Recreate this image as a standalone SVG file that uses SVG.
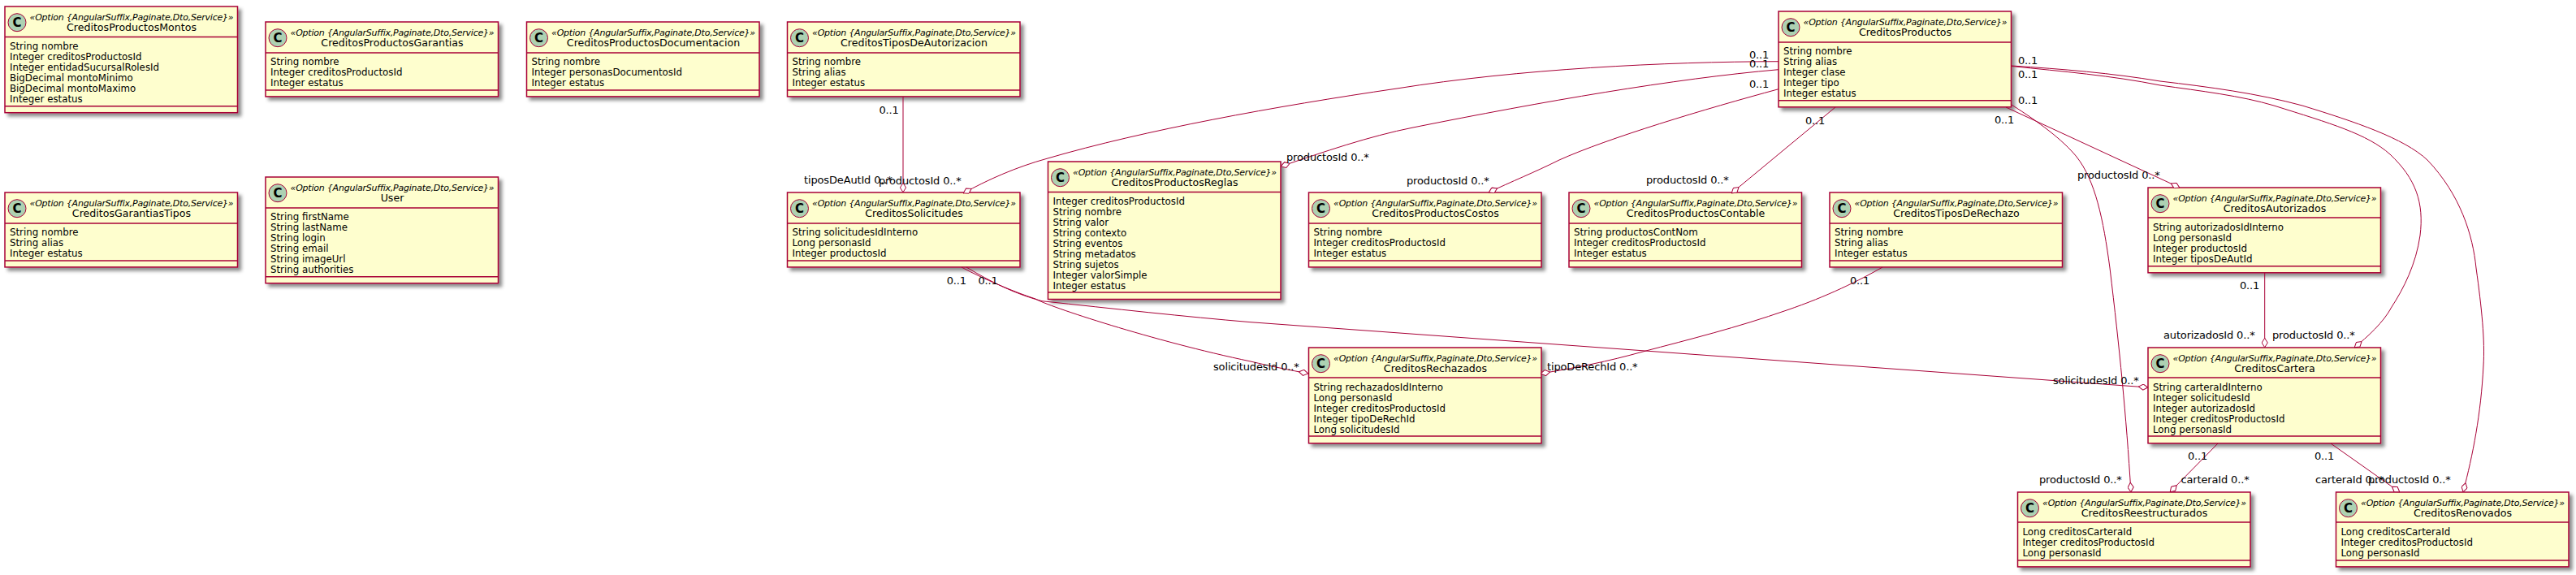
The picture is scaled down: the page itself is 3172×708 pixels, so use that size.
<svg xmlns="http://www.w3.org/2000/svg" width="3172" height="708" viewBox="0 0 3172 708">
<style>
text{font-family:"DejaVu Sans",sans-serif;fill:#000}
.box{fill:#FEFECE;stroke:#A80036;stroke-width:1.5;filter:url(#sh)}
.sep{stroke:#A80036;stroke-width:1.5}
.ic{fill:#ADD1B2;stroke:#A80036;stroke-width:1}
.c{font-size:15px;font-weight:bold;text-anchor:middle}
.st{font-size:11px;font-style:italic;text-anchor:middle;letter-spacing:-.22px}
.nm{font-size:12.6px;text-anchor:middle}
.at{font-size:11.8px}
.lb{font-size:13px;letter-spacing:-.15px}
#edges path{fill:none;stroke:#A80036;stroke-width:1;marker-end:url(#dia)}
</style>
<defs>
<filter id="sh" x="-5%" y="-10%" width="112%" height="125%"><feDropShadow dx="4" dy="4" stdDeviation="2" flood-color="#000" flood-opacity=".45"/></filter>
<marker id="dia" markerUnits="userSpaceOnUse" viewBox="0 0 12 8" refX="12" refY="4" markerWidth="12" markerHeight="8" orient="auto"><path d="M0.3 4L6 0.4L11.7 4L6 7.6Z" fill="#fff" stroke="#A80036" stroke-width="1"/></marker>
</defs>
<g id="CreditosProductosMontos" transform="translate(6,8)"><rect class="box" width="286.5" height="130.7"/><line class="sep" x2="286.5" y1="37.5" y2="37.5"/><line class="sep" x2="286.5" y1="122.7" y2="122.7"/><circle class="ic" cx="15" cy="19.7" r="11"/><text class="c" x="15" y="25">C</text><text class="st" x="156" y="17">«Option {AngularSuffix,Paginate,Dto,Service}»</text><text class="nm" x="156" y="30.3">CreditosProductosMontos</text><text class="at" x="6" y="52.5">String nombre</text><text class="at" x="6" y="65.5">Integer creditosProductosId</text><text class="at" x="6" y="78.5">Integer entidadSucursalRolesId</text><text class="at" x="6" y="91.5">BigDecimal montoMinimo</text><text class="at" x="6" y="104.5">BigDecimal montoMaximo</text><text class="at" x="6" y="117.5">Integer estatus</text></g>
<g id="CreditosProductosGarantias" transform="translate(327,27)"><rect class="box" width="286.5" height="91.9"/><line class="sep" x2="286.5" y1="38" y2="38"/><line class="sep" x2="286.5" y1="83.9" y2="83.9"/><circle class="ic" cx="15" cy="19.7" r="11"/><text class="c" x="15" y="25">C</text><text class="st" x="156" y="17">«Option {AngularSuffix,Paginate,Dto,Service}»</text><text class="nm" x="156" y="30.3">CreditosProductosGarantias</text><text class="at" x="6" y="52.5">String nombre</text><text class="at" x="6" y="65.5">Integer creditosProductosId</text><text class="at" x="6" y="78.5">Integer estatus</text></g>
<g id="CreditosProductosDocumentacion" transform="translate(648.5,27)"><rect class="box" width="286.5" height="91.9"/><line class="sep" x2="286.5" y1="38" y2="38"/><line class="sep" x2="286.5" y1="83.9" y2="83.9"/><circle class="ic" cx="15" cy="19.7" r="11"/><text class="c" x="15" y="25">C</text><text class="st" x="156" y="17">«Option {AngularSuffix,Paginate,Dto,Service}»</text><text class="nm" x="156" y="30.3">CreditosProductosDocumentacion</text><text class="at" x="6" y="52.5">String nombre</text><text class="at" x="6" y="65.5">Integer personasDocumentosId</text><text class="at" x="6" y="78.5">Integer estatus</text></g>
<g id="CreditosTiposDeAutorizacion" transform="translate(969.5,27)"><rect class="box" width="286.5" height="91.9"/><line class="sep" x2="286.5" y1="38" y2="38"/><line class="sep" x2="286.5" y1="83.9" y2="83.9"/><circle class="ic" cx="15" cy="19.7" r="11"/><text class="c" x="15" y="25">C</text><text class="st" x="156" y="17">«Option {AngularSuffix,Paginate,Dto,Service}»</text><text class="nm" x="156" y="30.3">CreditosTiposDeAutorizacion</text><text class="at" x="6" y="52.5">String nombre</text><text class="at" x="6" y="65.5">String alias</text><text class="at" x="6" y="78.5">Integer estatus</text></g>
<g id="CreditosProductos" transform="translate(2190,14)"><rect class="box" width="286.5" height="117.8"/><line class="sep" x2="286.5" y1="38" y2="38"/><line class="sep" x2="286.5" y1="109.8" y2="109.8"/><circle class="ic" cx="15" cy="19.7" r="11"/><text class="c" x="15" y="25">C</text><text class="st" x="156" y="17">«Option {AngularSuffix,Paginate,Dto,Service}»</text><text class="nm" x="156" y="30.3">CreditosProductos</text><text class="at" x="6" y="52.5">String nombre</text><text class="at" x="6" y="65.5">String alias</text><text class="at" x="6" y="78.5">Integer clase</text><text class="at" x="6" y="91.5">Integer tipo</text><text class="at" x="6" y="104.5">Integer estatus</text></g>
<g id="CreditosGarantiasTipos" transform="translate(6,237)"><rect class="box" width="286.5" height="91.9"/><line class="sep" x2="286.5" y1="38" y2="38"/><line class="sep" x2="286.5" y1="83.9" y2="83.9"/><circle class="ic" cx="15" cy="19.7" r="11"/><text class="c" x="15" y="25">C</text><text class="st" x="156" y="17">«Option {AngularSuffix,Paginate,Dto,Service}»</text><text class="nm" x="156" y="30.3">CreditosGarantiasTipos</text><text class="at" x="6" y="52.5">String nombre</text><text class="at" x="6" y="65.5">String alias</text><text class="at" x="6" y="78.5">Integer estatus</text></g>
<g id="User" transform="translate(327,218)"><rect class="box" width="286.5" height="130.7"/><line class="sep" x2="286.5" y1="38" y2="38"/><line class="sep" x2="286.5" y1="122.7" y2="122.7"/><circle class="ic" cx="15" cy="19.7" r="11"/><text class="c" x="15" y="25">C</text><text class="st" x="156" y="17">«Option {AngularSuffix,Paginate,Dto,Service}»</text><text class="nm" x="156" y="30.3">User</text><text class="at" x="6" y="52.5">String firstName</text><text class="at" x="6" y="65.5">String lastName</text><text class="at" x="6" y="78.5">String login</text><text class="at" x="6" y="91.5">String email</text><text class="at" x="6" y="104.5">String imageUrl</text><text class="at" x="6" y="117.5">String authorities</text></g>
<g id="CreditosSolicitudes" transform="translate(969.5,237)"><rect class="box" width="286.5" height="91.9"/><line class="sep" x2="286.5" y1="38" y2="38"/><line class="sep" x2="286.5" y1="83.9" y2="83.9"/><circle class="ic" cx="15" cy="19.7" r="11"/><text class="c" x="15" y="25">C</text><text class="st" x="156" y="17">«Option {AngularSuffix,Paginate,Dto,Service}»</text><text class="nm" x="156" y="30.3">CreditosSolicitudes</text><text class="at" x="6" y="52.5">String solicitudesIdInterno</text><text class="at" x="6" y="65.5">Long personasId</text><text class="at" x="6" y="78.5">Integer productosId</text></g>
<g id="CreditosProductosReglas" transform="translate(1290.5,199)"><rect class="box" width="286.5" height="169.5"/><line class="sep" x2="286.5" y1="37.5" y2="37.5"/><line class="sep" x2="286.5" y1="161" y2="161"/><circle class="ic" cx="15" cy="19.7" r="11"/><text class="c" x="15" y="25">C</text><text class="st" x="156" y="17">«Option {AngularSuffix,Paginate,Dto,Service}»</text><text class="nm" x="156" y="30.3">CreditosProductosReglas</text><text class="at" x="6" y="52.5">Integer creditosProductosId</text><text class="at" x="6" y="65.5">String nombre</text><text class="at" x="6" y="78.5">String valor</text><text class="at" x="6" y="91.5">String contexto</text><text class="at" x="6" y="104.5">String eventos</text><text class="at" x="6" y="117.5">String metadatos</text><text class="at" x="6" y="130.5">String sujetos</text><text class="at" x="6" y="143.5">Integer valorSimple</text><text class="at" x="6" y="156.5">Integer estatus</text></g>
<g id="CreditosProductosCostos" transform="translate(1611.5,237)"><rect class="box" width="286.5" height="91.9"/><line class="sep" x2="286.5" y1="38" y2="38"/><line class="sep" x2="286.5" y1="83.9" y2="83.9"/><circle class="ic" cx="15" cy="19.7" r="11"/><text class="c" x="15" y="25">C</text><text class="st" x="156" y="17">«Option {AngularSuffix,Paginate,Dto,Service}»</text><text class="nm" x="156" y="30.3">CreditosProductosCostos</text><text class="at" x="6" y="52.5">String nombre</text><text class="at" x="6" y="65.5">Integer creditosProductosId</text><text class="at" x="6" y="78.5">Integer estatus</text></g>
<g id="CreditosProductosContable" transform="translate(1932,237)"><rect class="box" width="286.5" height="91.9"/><line class="sep" x2="286.5" y1="38" y2="38"/><line class="sep" x2="286.5" y1="83.9" y2="83.9"/><circle class="ic" cx="15" cy="19.7" r="11"/><text class="c" x="15" y="25">C</text><text class="st" x="156" y="17">«Option {AngularSuffix,Paginate,Dto,Service}»</text><text class="nm" x="156" y="30.3">CreditosProductosContable</text><text class="at" x="6" y="52.5">String productosContNom</text><text class="at" x="6" y="65.5">Integer creditosProductosId</text><text class="at" x="6" y="78.5">Integer estatus</text></g>
<g id="CreditosTiposDeRechazo" transform="translate(2253,237)"><rect class="box" width="286.5" height="91.9"/><line class="sep" x2="286.5" y1="38" y2="38"/><line class="sep" x2="286.5" y1="83.9" y2="83.9"/><circle class="ic" cx="15" cy="19.7" r="11"/><text class="c" x="15" y="25">C</text><text class="st" x="156" y="17">«Option {AngularSuffix,Paginate,Dto,Service}»</text><text class="nm" x="156" y="30.3">CreditosTiposDeRechazo</text><text class="at" x="6" y="52.5">String nombre</text><text class="at" x="6" y="65.5">String alias</text><text class="at" x="6" y="78.5">Integer estatus</text></g>
<g id="CreditosAutorizados" transform="translate(2645,231)"><rect class="box" width="286.5" height="104.8"/><line class="sep" x2="286.5" y1="37" y2="37"/><line class="sep" x2="286.5" y1="96.8" y2="96.8"/><circle class="ic" cx="15" cy="19.7" r="11"/><text class="c" x="15" y="25">C</text><text class="st" x="156" y="17">«Option {AngularSuffix,Paginate,Dto,Service}»</text><text class="nm" x="156" y="30.3">CreditosAutorizados</text><text class="at" x="6" y="52.5">String autorizadosIdInterno</text><text class="at" x="6" y="65.5">Long personasId</text><text class="at" x="6" y="78.5">Integer productosId</text><text class="at" x="6" y="91.5">Integer tiposDeAutId</text></g>
<g id="CreditosRechazados" transform="translate(1611.5,428)"><rect class="box" width="286.5" height="117.8"/><line class="sep" x2="286.5" y1="37" y2="37"/><line class="sep" x2="286.5" y1="109" y2="109"/><circle class="ic" cx="15" cy="19.7" r="11"/><text class="c" x="15" y="25">C</text><text class="st" x="156" y="17">«Option {AngularSuffix,Paginate,Dto,Service}»</text><text class="nm" x="156" y="30.3">CreditosRechazados</text><text class="at" x="6" y="52.5">String rechazadosIdInterno</text><text class="at" x="6" y="65.5">Long personasId</text><text class="at" x="6" y="78.5">Integer creditosProductosId</text><text class="at" x="6" y="91.5">Integer tipoDeRechId</text><text class="at" x="6" y="104.5">Long solicitudesId</text></g>
<g id="CreditosCartera" transform="translate(2645,428)"><rect class="box" width="286.5" height="117.8"/><line class="sep" x2="286.5" y1="37" y2="37"/><line class="sep" x2="286.5" y1="109" y2="109"/><circle class="ic" cx="15" cy="19.7" r="11"/><text class="c" x="15" y="25">C</text><text class="st" x="156" y="17">«Option {AngularSuffix,Paginate,Dto,Service}»</text><text class="nm" x="156" y="30.3">CreditosCartera</text><text class="at" x="6" y="52.5">String carteraIdInterno</text><text class="at" x="6" y="65.5">Integer solicitudesId</text><text class="at" x="6" y="78.5">Integer autorizadosId</text><text class="at" x="6" y="91.5">Integer creditosProductosId</text><text class="at" x="6" y="104.5">Long personasId</text></g>
<g id="CreditosReestructurados" transform="translate(2484.5,606)"><rect class="box" width="286.5" height="91.9"/><line class="sep" x2="286.5" y1="37" y2="37"/><line class="sep" x2="286.5" y1="83.9" y2="83.9"/><circle class="ic" cx="15" cy="19.7" r="11"/><text class="c" x="15" y="25">C</text><text class="st" x="156" y="17">«Option {AngularSuffix,Paginate,Dto,Service}»</text><text class="nm" x="156" y="30.3">CreditosReestructurados</text><text class="at" x="6" y="52.5">Long creditosCarteraId</text><text class="at" x="6" y="65.5">Integer creditosProductosId</text><text class="at" x="6" y="78.5">Long personasId</text></g>
<g id="CreditosRenovados" transform="translate(2876.5,606)"><rect class="box" width="286.5" height="91.9"/><line class="sep" x2="286.5" y1="37" y2="37"/><line class="sep" x2="286.5" y1="83.9" y2="83.9"/><circle class="ic" cx="15" cy="19.7" r="11"/><text class="c" x="15" y="25">C</text><text class="st" x="156" y="17">«Option {AngularSuffix,Paginate,Dto,Service}»</text><text class="nm" x="156" y="30.3">CreditosRenovados</text><text class="at" x="6" y="52.5">Long creditosCarteraId</text><text class="at" x="6" y="65.5">Integer creditosProductosId</text><text class="at" x="6" y="78.5">Long personasId</text></g>
<g id="edges">
<path d="M1112 119V237"/>
<path d="M2190 75.7C2050 76 1870 85 1720 109C1570 131 1410 160 1290 195C1250 206 1215 222 1186 238"/>
<path d="M2190 85.7C2060 97 1900 125 1740 157C1685 168 1630 187 1577 205"/>
<path d="M2190 109.7C2100 134 1980 170 1920 197C1890 212 1860 224 1833 237"/>
<path d="M2260 132L2132 238"/>
<path d="M2470 132L2684 231"/>
<path d="M2477 129C2510 150 2540 172 2557 193C2580 222 2590 270 2598 330C2610 430 2618 510 2624 606"/>
<path d="M2477 81.5C2540 88 2600 93 2660 105C2710 112 2760 118 2800 130C2870 152 2915 165 2943 190C2975 220 2985 250 2980 290C2975 325 2960 355 2945 378C2935 397 2915 415 2899 428"/>
<path d="M2477 81C2540 85 2600 90 2660 100C2720 107 2780 115 2835 130C2900 150 2960 170 2989 197C3030 240 3045 290 3049 330C3056 380 3060 420 3058 450C3055 510 3045 560 3033 606"/>
<path d="M2788.7 336V428"/>
<path d="M2731 546L2672 606"/>
<path d="M2870 546L2955 606"/>
<path d="M1184 329C1210 343 1250 360 1275 368C1290 377 1420 420 1540 445C1565 451 1590 456 1611 460"/>
<path d="M1190 329C1220 347 1250 362 1283 370.7C1370 380 1460 390 1540 396.7L2645 477"/>
<path d="M2318 329C2290 345 2250 365 2200 382C2140 403 2080 418 2023 433C1980 445 1940 453 1897 460"/>
</g>
<g id="labels">
<text class="lb" x="1082.4" y="140">0..1</text>
<text class="lb" x="990" y="226">tiposDeAutId 0..*</text>
<text class="lb" x="1082" y="226.5">productosId 0..*</text>
<text class="lb" x="1584" y="198">productosId 0..*</text>
<text class="lb" x="1732" y="226.7">productosId 0..*</text>
<text class="lb" x="2027" y="225.7">productosId 0..*</text>
<text class="lb" x="2154" y="71.7">0..1</text>
<text class="lb" x="2154" y="83">0..1</text>
<text class="lb" x="2154" y="107.7">0..1</text>
<text class="lb" x="2223" y="152.7">0..1</text>
<text class="lb" x="2485" y="79">0..1</text>
<text class="lb" x="2485" y="96">0..1</text>
<text class="lb" x="2485" y="128">0..1</text>
<text class="lb" x="2456" y="152">0..1</text>
<text class="lb" x="2558" y="220">productosId 0..*</text>
<text class="lb" x="2758" y="356">0..1</text>
<text class="lb" x="2664" y="417">autorizadosId 0..*</text>
<text class="lb" x="2798" y="417">productosId 0..*</text>
<text class="lb" x="1165.7" y="350">0..1</text>
<text class="lb" x="1204.5" y="350">0..1</text>
<text class="lb" x="1494" y="456">solicitudesId 0..*</text>
<text class="lb" x="1905" y="455.7">tipoDeRechId 0..*</text>
<text class="lb" x="2278" y="350">0..1</text>
<text class="lb" x="2528" y="472.7">solicitudesId 0..*</text>
<text class="lb" x="2694" y="566">0..1</text>
<text class="lb" x="2850" y="566">0..1</text>
<text class="lb" x="2511" y="595">productosId 0..*</text>
<text class="lb" x="2685.5" y="595">carteraId 0..*</text>
<text class="lb" x="2851" y="595">carteraId 0..*</text>
<text class="lb" x="2916" y="595">productosId 0..*</text>
</g>
</svg>
